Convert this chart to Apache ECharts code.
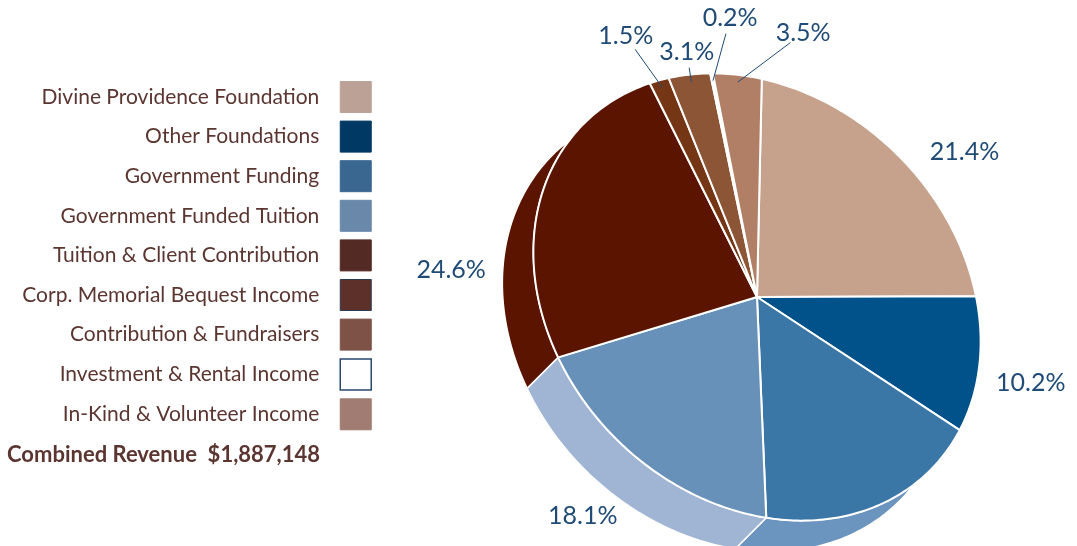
<!DOCTYPE html>
<html>
<head>
<meta charset="utf-8">
<script src="https://cdn.jsdelivr.net/npm/echarts@6/dist/echarts.min.js"></script>
<style>
  html, body { margin: 0; padding: 0; background: #fff; }
  #main { width: 1077px; height: 546px; }
</style>
</head>
<body>
<div id="main"></div>
<script>
// revenue mix, percent of combined revenue
const categories = [
    'Divine Providence Foundation',
    'Other Foundations',
    'Government Funding',
    'Government Funded Tuition',
    'Tuition & Client Contribution',
    'Corp. Memorial Bequest Income',
    'Contribution & Fundraisers',
    'Investment & Rental Income',
    'In-Kind & Volunteer Income'
];
const shares = [21.4, 10.2, 17.4, 18.1, 24.6, 1.5, 3.1, 0.2, 3.5];
const showLabel = [true, true, false, true, true, true, true, true, true];
const totalRevenue = '$1,887,148';

// colours
const topColors = ['#c6a18b', '#01518a', '#3a76a6', '#6791b9', '#5a1400', '#753616', '#8c5536', '#ffffff', '#b07f65'];
const wallColors = ['#b48e78', '#013f6c', '#6b94be', '#a0b5d4', '#5a1400', '#5e2a10', '#70432a', '#e6e6e6', '#966a53'];
const legendColors = ['#bca196', '#003a64', '#3a6790', '#6a88aa', '#542b24', '#5d3029', '#7f5248', '#ffffff', '#a17c72'];
const textColor = '#5b3530';
const labelColor = '#1f4b76';
const font = 'Lato';

// the disc is tilted, so it is drawn as an ellipse with a visible edge
const CX = 757, CY = 297, RA = 245, TILT = 200 / 245, DEPTH = [-31, 31];
const START = 83;
// label placement: [angle nudge (deg), distance from centre]
const labelPlace = [[-9.5, 253], [0, 287], null, [-4.5, 280], [21.6, 307], [2.4, 292], [-1, 255], [-6, 280], [-15, 268]];

const total = shares.reduce((a, b) => a + b, 0);
let acc = 0;
const spans = shares.map(v => {
    const a0 = START - acc / total * 360;
    acc += v;
    return [a0, START - acc / total * 360];
});

function rim(deg, inset) {
    const t = deg * Math.PI / 180;
    const c = Math.cos(t), s = Math.sin(t);
    const u = (c + s) / Math.SQRT2 * TILT, v = (s - c) / Math.SQRT2;
    const x = (u - v) / Math.SQRT2, y = (u + v) / Math.SQRT2;
    const r = RA - (inset || 0);
    return [CX + r * x, CY - r * y];
}

function renderSlice(i, api) {
    const [a0, a1] = spans[i];
    const n = Math.max(2, Math.ceil(Math.abs(a0 - a1)));
    const arc = [];
    for (let k = 0; k <= n; k++) arc.push(rim(a0 + (a1 - a0) * k / n));
    const wall = arc.concat(arc.slice().reverse().map(p => [p[0] + DEPTH[0], p[1] + DEPTH[1]]));
    const children = [
        {
            type: 'polygon', z2: 1,
            shape: { points: wall },
            style: { fill: wallColors[i], stroke: '#fff', lineWidth: 1.5 }
        },
        {
            type: 'polygon', z2: 10,
            shape: { points: [[CX, CY]].concat(arc) },
            style: { fill: topColors[i], stroke: '#fff', lineWidth: 2, lineJoin: 'round' }
        }
    ];
    const place = labelPlace[i];
    if (showLabel[i] && place) {
        const mid = (a0 + a1) / 2;
        const p = rim(mid);
        const psi = Math.atan2(CY - p[1], p[0] - CX) + place[0] * Math.PI / 180;
        const lx = CX + place[1] * Math.cos(psi);
        const ly = CY - place[1] * Math.sin(psi);
        children.push({
            type: 'text', z2: 20, x: lx, y: ly,
            style: {
                text: api.value(0).toFixed(1) + '%',
                fill: labelColor, fontSize: 25, fontFamily: font,
                align: 'center', verticalAlign: 'middle',
                textAlign: 'center', textVerticalAlign: 'middle'
            }
        });
        if (api.value(0) < 5) {
            const s = rim(mid, 8);
            const dx = s[0] - lx, dy = s[1] - ly;
            const len = Math.sqrt(dx * dx + dy * dy);
            children.push({
                type: 'line', z2: 20,
                shape: { x1: s[0], y1: s[1], x2: lx + dx / len * 16, y2: ly + dy / len * 16 },
                style: { stroke: labelColor, lineWidth: 1 }
            });
        }
    }
    return { type: 'group', children };
}

var chartDom = document.getElementById('main');
var myChart = echarts.init(chartDom);

let option = {
    animation: false,
    title: {
        text: 'Combined Revenue  ' + totalRevenue,
        right: 757,
        top: 444,
        padding: 0,
        textStyle: { color: textColor, fontSize: 22, fontWeight: 'bold', fontFamily: font }
    },
    legend: {
        orient: 'vertical',
        align: 'right',
        right: 705,
        top: 81,
        padding: 0,
        itemWidth: 31,
        itemHeight: 31,
        itemGap: 7.6,
        icon: 'rect',
        selectedMode: false,
        textStyle: { color: textColor, fontSize: 21, fontFamily: font, padding: [0, 16, 0, 0] },
        data: categories.map((name, i) => ({
            name,
            itemStyle: {
                color: legendColors[i],
                borderColor: i === 7 ? '#28486e' : (i === 5 ? '#2b3a57' : legendColors[i]),
                borderWidth: i === 7 ? 1.5 : 1
            }
        }))
    },
    series: categories.map((name, i) => ({
        name,
        type: 'custom',
        coordinateSystem: 'none',
        silent: true,
        itemStyle: { color: legendColors[i] },
        data: [[shares[i]]],
        renderItem: (params, api) => renderSlice(i, api)
    }))
};

myChart.setOption(option);
window.addEventListener('resize', () => {
    myChart.resize();
});
</script>
</body>
</html>
